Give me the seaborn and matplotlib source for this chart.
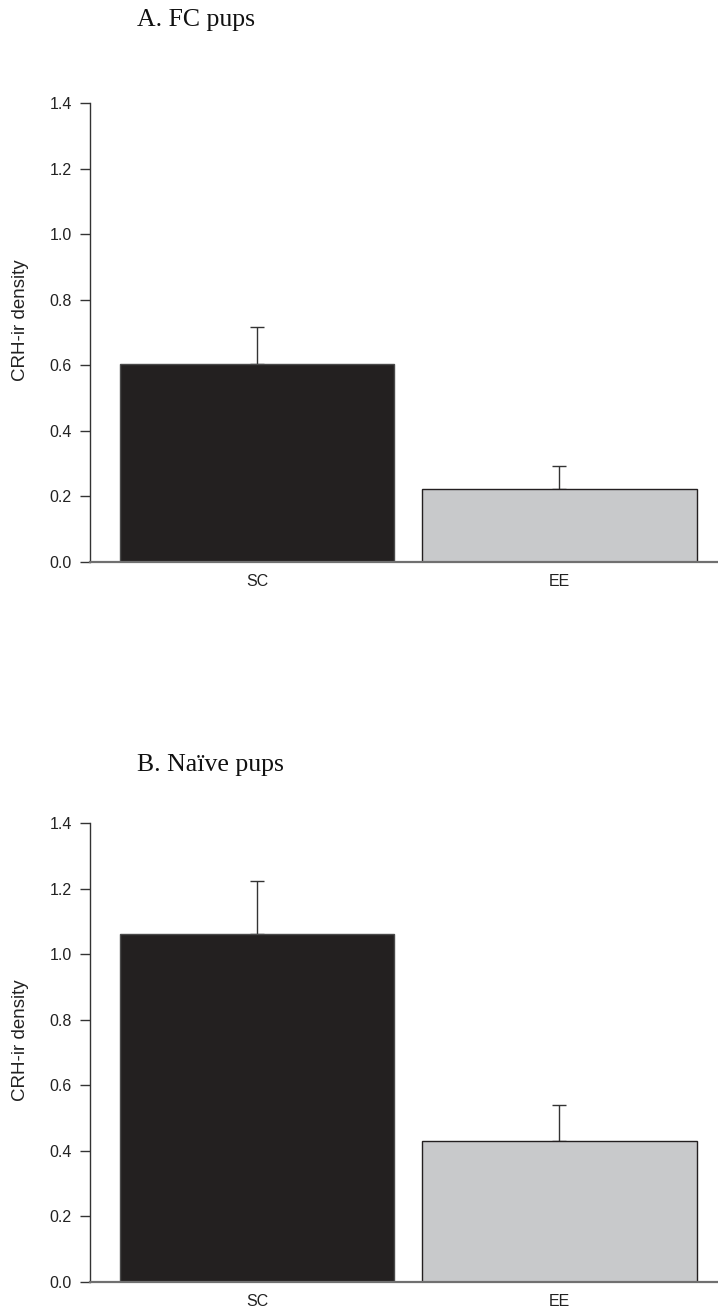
import matplotlib
matplotlib.use("Agg")
import matplotlib.pyplot as plt
import seaborn as sns
import pandas as pd

# Group labels and CRH-ir density (mean and upper SEM) for each panel
groups = ["SC", "EE"]
fc_means = [0.605, 0.222]
fc_sem = [0.111, 0.069]
naive_means = [1.062, 0.429]
naive_sem = [0.161, 0.111]
panel_titles = ["A. FC pups", "B. Na\u00efve pups"]
y_ticks = [0.0, 0.2, 0.4, 0.6, 0.8, 1.0, 1.2, 1.4]

bar_colors = ["#231f20", "#c8c9cb"]
edge_colors = ["#4a4a4a", "#231f20"]

sns.set_theme(style="white")
plt.rcParams["font.family"] = ["Liberation Sans", "DejaVu Sans"]

W, H = 718, 1314
fig = plt.figure(figsize=(W / 100, H / 100), dpi=100)

left = 90 / W
width = (W - 90) / W
panels = [
    (fc_means, fc_sem, panel_titles[0], 561.7, 103.3, 26),
    (naive_means, naive_sem, panel_titles[1], 1281.5, 823.3, 771),
]

for means, sem, title, y0_px, y1_px, title_base in panels:
    ax = fig.add_axes([left, 1 - y0_px / H, width, (y0_px - y1_px) / H])
    df = pd.DataFrame({"group": groups, "density": means})
    sns.barplot(data=df, x="group", y="density", hue="group",
                palette=bar_colors, width=0.906, linewidth=1.0,
                legend=False, ax=ax, zorder=2)
    for patch, ec in zip(ax.patches, edge_colors):
        patch.set_edgecolor(ec)
    ax.errorbar(range(len(groups)), means,
                yerr=[[0] * len(groups), sem],
                fmt="none", ecolor="#333333", elinewidth=1.0,
                capsize=5, capthick=1.0, zorder=1)

    ax.set_ylim(0, 1.4)
    ax.set_xlim(-0.552, 1.524)
    ax.set_yticks(y_ticks)
    ax.set_yticklabels([f"{t:.1f}" for t in y_ticks])
    ax.set_xlabel("")
    ax.set_ylabel("CRH-ir density", fontsize=13.5, color="#222222")
    ax.yaxis.set_label_coords(-0.097, 0.527)

    ax.tick_params(axis="y", direction="out", length=7, width=1.0,
                   color="#333333", labelsize=11.5, labelcolor="#222222",
                   pad=6, left=True)
    ax.tick_params(axis="x", length=0, labelsize=11.5,
                   labelcolor="#222222", pad=9)

    for s in ("top", "right"):
        ax.spines[s].set_visible(False)
    ax.spines["left"].set_color("#333333")
    ax.spines["left"].set_linewidth(1.0)
    ax.spines["bottom"].set_color("#707070")
    ax.spines["bottom"].set_linewidth(1.6)
    ax.set_facecolor("white")

    fig.text(137 / W, 1 - title_base / H, title, fontsize=18.5,
             family=["Liberation Serif", "DejaVu Serif"],
             color="#111111", ha="left", va="baseline")

fig.savefig("out.png", dpi=100, facecolor="white")
